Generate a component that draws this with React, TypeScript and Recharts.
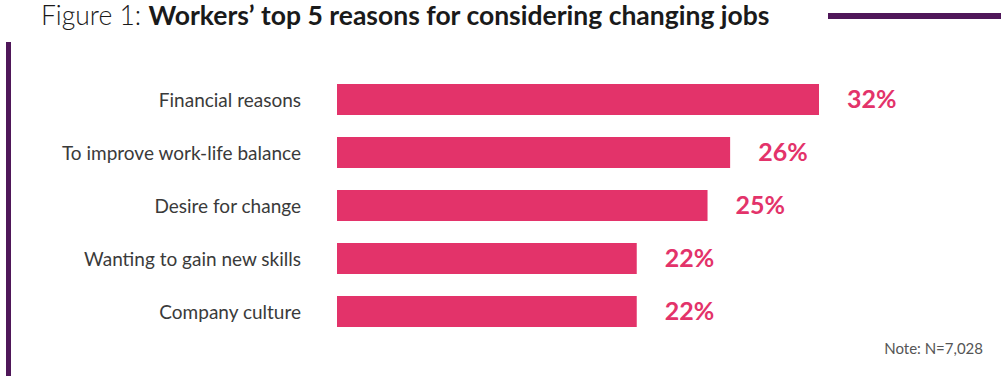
import { BarChart, Bar, XAxis, YAxis, LabelList } from 'recharts';

// bar lengths (percent), printed labels kept separately
const reasons = [
  'Financial reasons',
  'To improve work-life balance',
  'Desire for change',
  'Wanting to gain new skills',
  'Company culture',
];
const shares = [32, 26.1, 24.6, 19.9, 19.9];
const shareLabels = ['32%', '26%', '25%', '22%', '22%'];

const data = reasons.map((reason, i) => ({
  reason,
  share: shares[i],
  label: shareLabels[i],
}));

const PINK = '#E3336A';
const PURPLE = '#4F1759';
const FONT = 'Lato, "Noto Sans", sans-serif';

const ReasonTick = (props: any) => {
  const { x, y, payload } = props;
  return (
    <text
      x={x - 28}
      y={y}
      textAnchor="end"
      dominantBaseline="central"
      fill="#3a3a3a"
      fontSize={19}
      fontFamily={FONT}
    >
      {payload.value}
    </text>
  );
};

const App = () => {
  return (
    <div
      style={{
        position: 'absolute',
        left: 0,
        top: 0,
        width: 1001,
        height: 376,
        background: '#fff',
        fontFamily: FONT,
        overflow: 'hidden',
      }}
    >
      <div
        style={{
          position: 'absolute',
          left: 41,
          top: -1,
          fontSize: 26.5,
          color: '#1a1a1a',
          whiteSpace: 'nowrap',
        }}
      >
        <span style={{ fontWeight: 300 }}>Figure 1: </span>
        <span style={{ fontWeight: 700 }}>Workers’ top 5 reasons for considering changing jobs</span>
      </div>
      <div
        style={{
          position: 'absolute',
          left: 828,
          top: 13,
          width: 173,
          height: 6,
          background: PURPLE,
        }}
      />
      <div
        style={{
          position: 'absolute',
          left: 6,
          top: 42,
          width: 5,
          height: 334,
          background: PURPLE,
        }}
      />
      <div style={{ position: 'absolute', left: 0, top: 0 }}>
        <BarChart
          width={1001}
          height={376}
          data={data}
          layout="vertical"
          margin={{ top: 73, right: 182, bottom: 38, left: 0 }}
        >
          <XAxis type="number" domain={[0, 32]} hide />
          <YAxis
            type="category"
            dataKey="reason"
            width={337}
            axisLine={false}
            tickLine={false}
            tick={<ReasonTick />}
            interval={0}
          />
          <Bar dataKey="share" fill={PINK} barSize={31} isAnimationActive={false}>
            <LabelList
              dataKey="label"
              position="right"
              offset={28}
              fill={PINK}
              fontSize={25}
              fontWeight={700}
              fontFamily={FONT}
            />
          </Bar>
        </BarChart>
      </div>
      <div
        style={{
          position: 'absolute',
          right: 18,
          top: 339,
          fontSize: 15,
          fontWeight: 400,
          color: '#555',
        }}
      >
        Note: N=7,028
      </div>
    </div>
  );
};

export default App;
